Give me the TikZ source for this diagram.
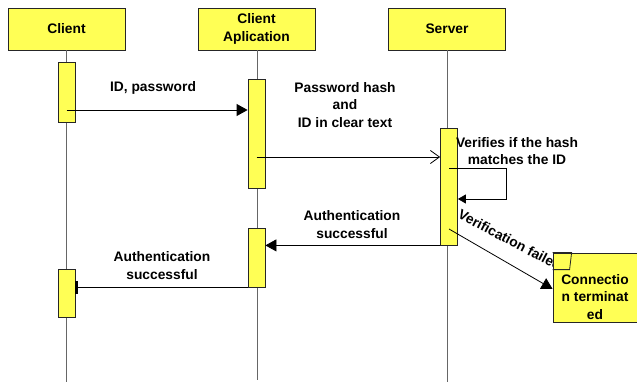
\documentclass[tikz,border=0pt]{standalone}
\usepackage{fontspec}
\setmainfont{Liberation Sans}
\usetikzlibrary{arrows.meta}
\definecolor{actfill}{HTML}{FFFF55}
\definecolor{lifegray}{HTML}{666666}
\begin{document}
\begin{tikzpicture}[x=1pt,y=-1pt,
  font=\bfseries\fontsize{13.8}{17.5}\selectfont,
  head/.style={draw=black!85, fill=actfill, minimum width=117pt, minimum height=42pt,
    align=center, inner sep=0pt, line width=0.8pt},
  act/.style={draw=black!85, fill=actfill, minimum width=17pt, inner sep=0pt, line width=0.8pt},
  life/.style={draw=lifegray, line width=0.8pt},
  msg/.style={draw=black, line width=0.8pt},
  lbl/.style={align=center, inner sep=0pt},
  solidtip/.style={-{Triangle[length=11pt,width=12pt]}},
  smalltip/.style={-{Triangle[length=8pt,width=9pt]}},
  opentip/.style={-{Straight Barb[length=9pt,width=13pt]}},
  bartip/.style={-{Bar[width=13pt,line width=2.5pt]}}
]
\useasboundingbox (0,0) rectangle (637,382);

% participants
\node[head] (client) at (66.5,29) {Client};
\node[head] (app) at (256.5,29) {Client\\Aplication};
\node[head] (server) at (447,29) {Server};

% lifelines
\coordinate (clientEnd) at (66,382);
\coordinate (appEnd) at (257,380);
\coordinate (serverEnd) at (447,382);
\draw[life] (client.south -| clientEnd) -- (clientEnd);
\draw[life] (app.south -| appEnd) -- (appEnd);
\draw[life] (server.south -| serverEnd) -- (serverEnd);

% activation bars
\node[act, minimum height=60pt] (c1) at (66.5,92) {};
\node[act, minimum height=48pt] (c2) at (66.5,293) {};
\node[act, minimum height=109pt] (a1) at (256.5,133.5) {};
\node[act, minimum height=59pt] (a2) at (256.5,257.5) {};
\node[act, minimum height=117pt] (s1) at (449,186.5) {};

% messages
\draw[msg, solidtip] (c1.center |- 0,110) -- (a1.west |- 0,110);
\node[lbl] at (153,88) {ID, password};

\draw[msg, opentip] (a1.center |- 0,157) -- (s1.west |- 0,157);
\node[lbl] at (345,105) {Password hash\\and\\ID in clear text};

\coordinate (loopA) at (506,168);
\coordinate (loopB) at (506,199);
\draw[msg, smalltip] (s1.center |- loopA) -- (loopA) -- (loopB) -- (s1.east |- loopB);
\node[lbl] at (517,151) {Verifies if the hash\\matches the ID};

\draw[msg, solidtip] (s1.south west) -- (a2.east |- s1.south west);
\node[lbl] at (352,224.5) {Authentication\\successful};

\draw[msg, bartip] (a2.south west) -- (c2.east |- a2.south west);
\node[lbl] at (162,265.5) {Authentication\\successful};

% failure branch
\node[lbl, rotate=-27.5] at (510,240) {Verification failed};
\node[draw=black!85, fill=actfill, line width=0.8pt, minimum width=84pt, minimum height=69pt,
  inner sep=0pt] (note) at (595,287.5) {};
\draw[black!85, line width=0.8pt] (note.north west) -- ++(19,0) -- ++(-2,17) -- ++(-17,0);
\node[lbl] (notetext) at (595,297) {Connectio\\n terminat\\ed};
\draw[msg, solidtip] (s1.center |- 0,229) -- (note.west |- 0,289);
\end{tikzpicture}
\end{document}
